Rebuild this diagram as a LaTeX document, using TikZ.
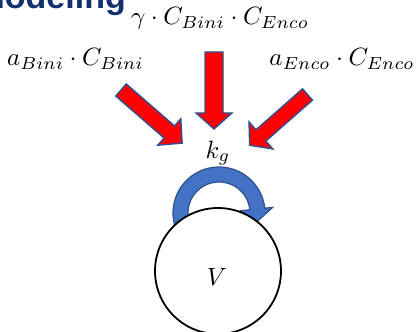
\documentclass[tikz,border=0pt]{standalone}
\usepackage{graphicx}
\usepackage{fontspec}
\newfontfamily\titlefont{Liberation Sans}
\definecolor{arrowred}{HTML}{FF0000}
\definecolor{edgeblue}{HTML}{2F528F}
\definecolor{loopblue}{HTML}{4472C4}
\definecolor{titleblue}{HTML}{14306E}
\newcommand\bigmath[1]{\scalebox{2.5}{$#1$}}
\tikzset{
  redarrow/.style={fill=arrowred, draw=edgeblue, line width=1.4pt, line join=miter},
  looparrow/.style={fill=loopblue, draw=edgeblue, line width=1.2pt, line join=miter},
  mathlabel/.style={inner sep=0pt, anchor=base},
  statecircle/.style={circle, draw=black, fill=white, line width=1.8pt, minimum size=126pt, inner sep=0pt}
}
% #1 tail point, #2 angle, #3 length, #4 shaft half width, #5 head half width, #6 head length
\newcommand\fatarrow[6]{%
  \draw[redarrow, shift={#1}, rotate=#2]
    (0,-#4) -- ({#3-#6},-#4) -- ({#3-#6},-#5) -- (#3,0) -- ({#3-#6},#5) -- ({#3-#6},#4) -- (0,#4) -- cycle;}
\begin{document}
\begin{tikzpicture}[x=1pt,y=1pt]
\useasboundingbox (0,0) rectangle (418,332);
\clip (0,0) rectangle (418,332);
% cropped title
\node[anchor=base east, inner sep=0pt, text=titleblue, font=\titlefont\bfseries\fontsize{34}{40}\selectfont] (title) at (126,323.5) {Modeling};
% labels
\node[mathlabel] (gam) at (220,307) {\bigmath{\gamma\cdot C_{Bini}\cdot C_{Enco}}};
\node[mathlabel] (abini) at (75.5,266) {\bigmath{a_{Bini}\cdot C_{Bini}}};
\node[mathlabel] (aenco) at (342,266) {\bigmath{a_{Enco}\cdot C_{Enco}}};
\node[mathlabel, anchor=center] (kg) at (218,179) {\bigmath{k_g}};
% red arrows
\coordinate (tl) at (121,242);
\coordinate (tm) at (214,280);
\coordinate (tr) at (307.5,237.5);
\fatarrow{(tl)}{-41}{81}{8}{17.5}{17}
\fatarrow{(tm)}{-90}{77}{9}{18}{16}
\fatarrow{(tr)}{-138.7}{77}{7.5}{18}{15}
% blue loop arrow
\begin{scope}[shift={(219,119)}]
\draw[looparrow] (200:46) arc[start angle=200, end angle=6, radius=46]
  -- (6:54) -- (-15:38) -- (6:22) -- (6:31)
  arc[start angle=6, end angle=200, radius=31] -- cycle;
\end{scope}
% state circle
\node[statecircle] (v) at (218,61) {};
\node[mathlabel, anchor=center] (vlab) at (217,55) {\bigmath{V}};
\end{tikzpicture}
\end{document}
